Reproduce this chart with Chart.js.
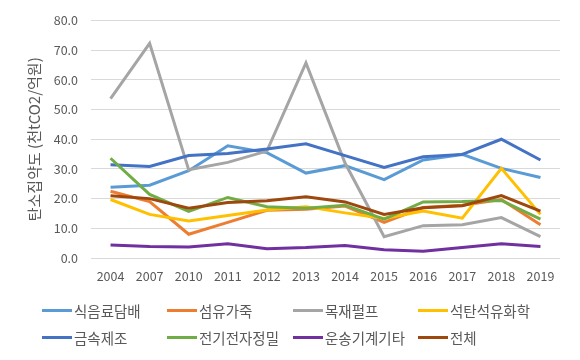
<!DOCTYPE html>
<html>
<head>
<meta charset="utf-8">
<script src="https://cdn.jsdelivr.net/npm/chart.js@4.4.0/dist/chart.umd.min.js"></script>
<style>
  html, body { margin: 0; padding: 0; background: #fff; }
  #wrap { position: relative; width: 580px; height: 360px; }
  #legend { position: absolute; left: 0; top: 0; width: 580px; height: 360px; pointer-events: none;
    font-family: "Noto Sans CJK KR", sans-serif; font-size: 14.5px; color: #595959; }
  .item { position: absolute; height: 20px; display: flex; align-items: center; white-space: nowrap; }
  .swatch { width: 30px; height: 3px; margin-right: 2px; }
</style>
</head>
<body>
<div id="wrap">
  <canvas id="chart" width="580" height="360"></canvas>
  <div id="legend"></div>
</div>
<script>
const years = ['2004', '2007', '2010', '2011', '2012', '2013', '2014', '2015', '2016', '2017', '2018', '2019']

const food = [23.8, 24.5, 29.4, 37.8, 35.5, 28.6, 31.1, 26.4, 33.0, 34.9, 30.2, 27.1]
const textile = [22.5, 19.0, 8.0, 12.0, 16.1, 16.4, 17.5, 12.0, 17.0, 17.8, 19.7, 11.2]
const wood = [53.7, 72.3, 29.7, 32.2, 36.0, 65.7, 32.0, 7.2, 10.9, 11.2, 13.6, 7.2]
const petro = [19.7, 14.7, 12.5, 14.3, 16.2, 17.3, 15.2, 13.3, 15.8, 13.4, 30.2, 14.7]
const metal = [31.4, 30.8, 34.5, 35.2, 36.7, 38.5, 34.5, 30.5, 34.1, 34.9, 40.0, 33.0]
const electric = [33.6, 21.4, 15.7, 20.4, 17.3, 16.8, 17.8, 13.1, 18.9, 19.0, 19.4, 13.1]
const transport = [4.4, 3.9, 3.7, 4.8, 3.1, 3.5, 4.2, 2.8, 2.3, 3.5, 4.8, 3.9]
const total = [21.0, 20.0, 16.8, 18.7, 19.3, 20.6, 18.9, 14.7, 16.9, 17.6, 21.0, 15.8]

const seriesNames = ['식음료담배', '섬유가죽', '목재펄프', '석탄석유화학', '금속제조', '전기전자정밀', '운송기계기타', '전체']
const seriesData = [food, textile, wood, petro, metal, electric, transport, total]
const colors = ['#5B9BD5', '#ED7D31', '#A5A5A5', '#FFC000', '#4472C4', '#70AD47', '#7030A0', '#9E480E']

const font = '"Noto Sans CJK KR", sans-serif'

const datasets = seriesNames.map((name, i) => ({
  label: name,
  data: seriesData[i],
  borderColor: colors[i],
  backgroundColor: colors[i],
  borderWidth: 3,
  pointRadius: 0,
  tension: 0,
  fill: false,
  // later series on top, like the spreadsheet
  order: seriesNames.length - i,
}))

new Chart(document.getElementById('chart'), {
  type: 'line',
  data: { labels: years, datasets },
  options: {
    responsive: false,
    animation: false,
    layout: { padding: { top: 17, right: 20, left: 0, bottom: 72 } },
    plugins: {
      legend: { display: false },
      tooltip: { enabled: false },
    },
    scales: {
      x: {
        offset: true,
        grid: { display: false, drawTicks: false },
        border: { display: false },
        ticks: { color: '#595959', font: { family: font, size: 12.5 }, padding: 11, maxRotation: 0 },
        afterFit: (s) => { s.height = 30 },
      },
      y: {
        min: 0,
        max: 80,
        grid: { color: '#D9D9D9', lineWidth: 1, drawTicks: false },
        border: { display: false },
        ticks: {
          stepSize: 10,
          color: '#595959',
          font: { family: font, size: 12.5 },
          padding: 13,
          callback: (v) => v.toFixed(1),
        },
        title: {
          display: true,
          text: '탄소집약도 (천tCO2/억원)',
          color: '#595959',
          font: { family: font, size: 15 },
          padding: { top: 25, bottom: 0 },
        },
        afterFit: (s) => { s.width = 91 },
      },
    },
  },
})

// legend laid out in a 4-column grid
const legendEl = document.getElementById('legend')
const colX = [42, 167, 293, 418]
const rowY = [310, 337]
seriesNames.forEach((name, i) => {
  const item = document.createElement('div')
  item.className = 'item'
  item.style.left = colX[i % 4] + 'px'
  item.style.top = (rowY[Math.floor(i / 4)] - 10) + 'px'
  const sw = document.createElement('span')
  sw.className = 'swatch'
  sw.style.background = colors[i]
  const tx = document.createElement('span')
  tx.textContent = name
  item.appendChild(sw)
  item.appendChild(tx)
  legendEl.appendChild(item)
})
</script>
</body>
</html>
